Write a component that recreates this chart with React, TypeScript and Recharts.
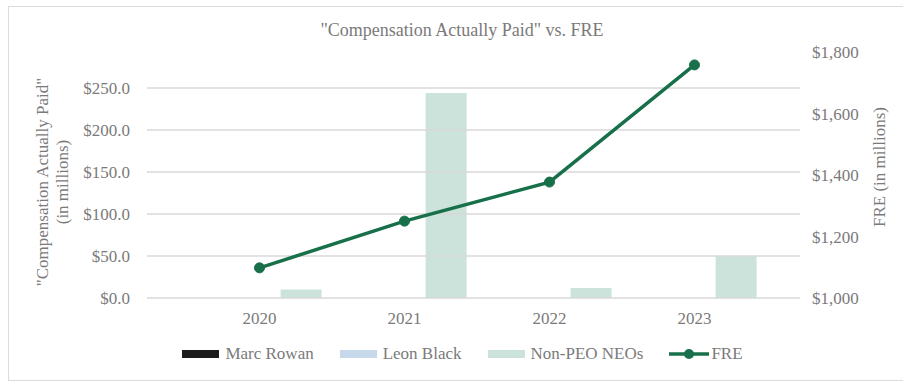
import { ComposedChart, Bar, Line, XAxis, YAxis, ReferenceLine } from 'recharts';

const years = ['2020', '2021', '2022', '2023'];
const marcRowan = [0, 0, 0, 0];
const leonBlack = [0, 0, 0, 0];
const nonPeoNeos = [10, 244, 12, 50];
const fre = [1098, 1250, 1377, 1758];

const leftTicks = [0, 50, 100, 150, 200, 250];
const rightTicks = [1000, 1200, 1400, 1600, 1800];

const C_ROWAN = '#1b1b1b';
const C_BLACK = '#c7d8ea';
const C_NEO = '#cce3db';
const C_FRE = '#17704a';
const C_TEXT = '#7a7a7a';
const FONT = 'Liberation Serif, serif';

const data = years.map((y, i) => ({
  year: y,
  rowan: marcRowan[i],
  black: leonBlack[i],
  neo: nonPeoNeos[i],
  fre: fre[i],
}));

const legendItems = [
  { label: 'Marc Rowan', color: C_ROWAN, kind: 'bar' },
  { label: 'Leon Black', color: C_BLACK, kind: 'bar' },
  { label: 'Non-PEO NEOs', color: C_NEO, kind: 'bar' },
  { label: 'FRE', color: C_FRE, kind: 'line' },
];

const tick = { fontSize: 17, fill: C_TEXT, fontFamily: FONT };

export default function App() {
  return (
    <div style={{ position: 'absolute', left: 0, top: 0, width: 903, height: 381, background: '#fff', overflow: 'hidden', fontFamily: FONT }}>
      <div style={{ position: 'absolute', left: 8, top: 6, width: 900, height: 373, border: '1px solid #dcdcdc', borderRight: 'none' }} />
      <div style={{ position: 'absolute', left: 0, top: 20, width: 924, textAlign: 'center', fontSize: 18, color: C_TEXT }}>
        "Compensation Actually Paid" vs. FRE
      </div>
      <div style={{ position: 'absolute', left: 0, top: 0 }}>
        <ComposedChart
          width={903}
          height={381}
          data={data}
          margin={{ top: 52, right: 0, left: 0, bottom: 53 }}
          barCategoryGap="8%"
          barGap={0}
        >
          <XAxis
            dataKey="year"
            padding={{ left: 40, right: 33 }}
            tickLine={false}
            axisLine={false}
            tickSize={0}
            tickMargin={14}
            height={30}
            tick={tick}
          />
          <YAxis
            yAxisId="left"
            width={147}
            domain={[0, 292.86]}
            ticks={leftTicks}
            allowDataOverflow
            tickLine={false}
            axisLine={false}
            tickSize={0}
            tickMargin={17}
            tickFormatter={(v: number) => `$${v.toFixed(1)}`}
            tick={tick}
          />
          <YAxis
            yAxisId="right"
            orientation="right"
            width={103}
            domain={[1000, 1800]}
            ticks={rightTicks}
            tickLine={false}
            axisLine={false}
            tickSize={0}
            tickMargin={12}
            tickFormatter={(v: number) => `$${v.toLocaleString('en-US')}`}
            tick={tick}
          />
          {leftTicks.map((v) => (
            <ReferenceLine key={v} yAxisId="left" y={v} stroke="#d9d9d9" strokeWidth={1.3} />
          ))}
          <Bar yAxisId="left" dataKey="rowan" fill={C_ROWAN} isAnimationActive={false} />
          <Bar yAxisId="left" dataKey="black" fill={C_BLACK} isAnimationActive={false} />
          <Bar yAxisId="left" dataKey="neo" fill={C_NEO} isAnimationActive={false} />
          <Line
            yAxisId="right"
            dataKey="fre"
            stroke={C_FRE}
            strokeWidth={3.5}
            dot={{ r: 5, fill: C_FRE, stroke: C_FRE, strokeWidth: 1 }}
            isAnimationActive={false}
          />
        </ComposedChart>
      </div>
      <svg style={{ position: 'absolute', left: 0, top: 0 }} width={903} height={381}>
        <g fill={C_TEXT} fontSize={17} fontFamily={FONT} textAnchor="middle">
          <text transform="translate(48,182) rotate(-90)">"Compensation Actually Paid"</text>
          <text transform="translate(68,182) rotate(-90)">(in millions)</text>
          <text transform="translate(885,167) rotate(-90)">FRE (in millions)</text>
        </g>
      </svg>
      <div style={{ position: 'absolute', left: 11, top: 344, width: 903, display: 'flex', justifyContent: 'center', alignItems: 'center', fontSize: 17, color: C_TEXT }}>
        {legendItems.map((it, i) => (
          <div key={it.label} style={{ display: 'flex', alignItems: 'center', marginLeft: i === 0 ? 0 : 26 }}>
            {it.kind === 'bar' ? (
              <svg width={37} height={10} style={{ marginRight: 6 }}>
                <rect x={0} y={1} width={37} height={8} fill={it.color} />
              </svg>
            ) : (
              <svg width={40} height={12} style={{ marginRight: 2 }}>
                <line x1={0} y1={6} x2={40} y2={6} stroke={it.color} strokeWidth={3.5} />
                <circle cx={20} cy={6} r={5} fill={it.color} />
              </svg>
            )}
            <span>{it.label}</span>
          </div>
        ))}
      </div>
    </div>
  );
}
